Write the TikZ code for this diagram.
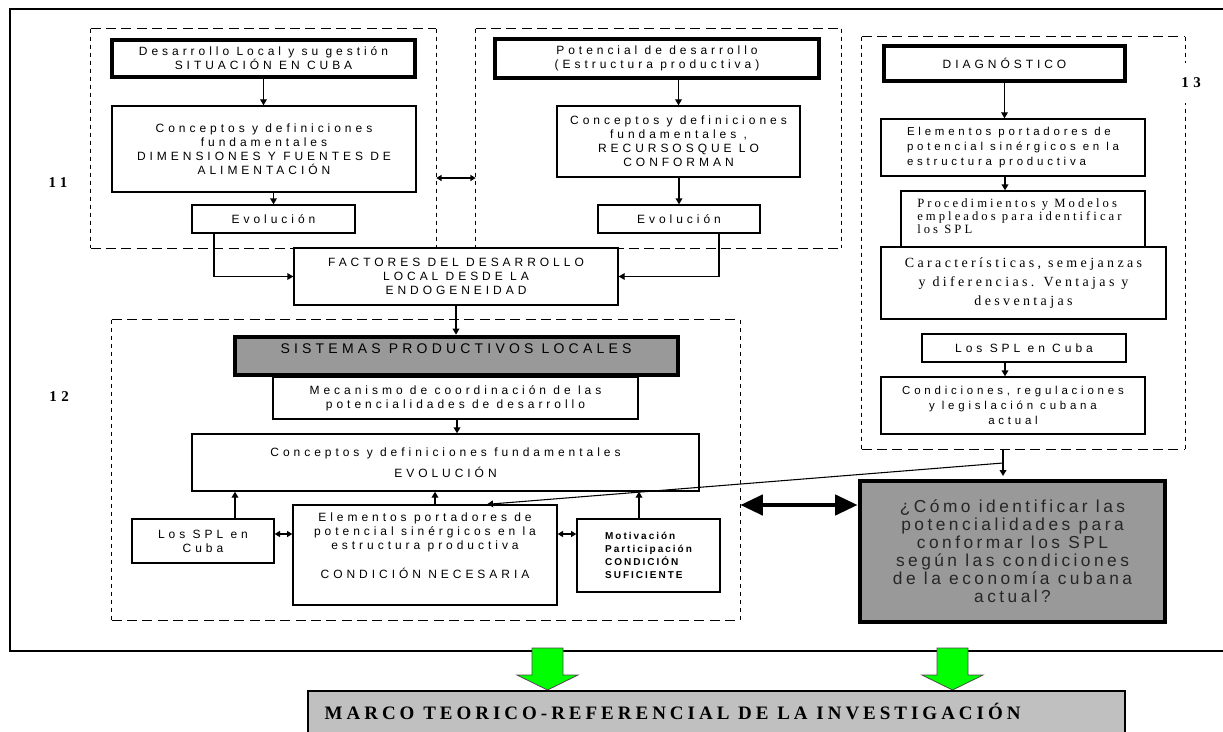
\documentclass[tikz,border=0pt]{standalone}
\usepackage{fontspec}
\setmainfont{Liberation Sans}
\newfontfamily\arf[LetterSpace=33]{Liberation Sans}
\newfontfamily\arsis[LetterSpace=30]{Liberation Sans}
\newfontfamily\arq[LetterSpace=20]{Liberation Sans}
\newfontfamily\tmf[LetterSpace=24]{Liberation Serif}
\newfontfamily\tmb[LetterSpace=21]{Liberation Serif}
\newfontfamily\lbf[LetterSpace=30]{Liberation Serif}
\usetikzlibrary{fit,arrows.meta,calc}
\definecolor{boxgray}{RGB}{153,153,153}
\definecolor{lgray}{RGB}{192,192,192}
\definecolor{arrgreen}{RGB}{0,255,0}
\newcommand{\myfs}[2]{\fontsize{#1}{#2}\selectfont}
\begin{document}
\begin{tikzpicture}[x=0.75pt,y=-0.75pt,
  bx/.style n args={4}{minimum width={(#3-#1)*0.75pt}, minimum height={(#4-#2)*0.75pt}, at={({(#1+#3)/2},{(#2+#4)/2})}},
  box/.style={draw, line width=1pt, fill=white, inner sep=0pt, align=center, font=\arf\myfs{9}{10.5}},
  thickbox/.style={box, line width=3.5pt},
  graybox/.style={box, line width=3.5pt, fill=boxgray},
  region/.style={inner sep=0pt},
  dh/.style={line width=0.9pt, dash pattern=on 7.5pt off 4pt},
  dv/.style={line width=0.9pt, dash pattern=on 3pt off 3pt},
  arr/.style={line width=1pt, -{Triangle[length=4.5pt,width=5pt]}},
  darr/.style={line width=1.5pt, {Triangle[length=4pt,width=4.5pt]}-{Triangle[length=4pt,width=4.5pt]}},
  bigarr/.style={line width=3.5pt, {Triangle[length=17pt,width=15pt]}-{Triangle[length=17pt,width=15pt]}},
  garrow/.style={fill=arrgreen, draw=black!70, line width=0.6pt},
  lbl/.style={font=\lbf\bfseries\myfs{11.25}{12}, inner sep=1pt},
  sertext/.style={font=\tmf\myfs{10.5}{14.25}},
]
\useasboundingbox (0,0) rectangle (1223,731);
\clip (0,0) rectangle (1223,731);
\fill[white] (0,0) rectangle (1223,731);

% outer frame
\draw[line width=0.9pt] (1240,9) -| (10,651) -- (1240,651);

% dashed regions
\node[region, fit={(91,29)(436,248)}] (d11) {};
\node[region, fit={(476,29)(841,248)}] (d2) {};
\node[region, fit={(112,320)(740,620)}] (d12) {};
\node[region, fit={(862,37)(1185,449)}] (d13) {};
\foreach \r in {d11,d2,d12,d13}{
  \draw[dh] (\r.north west) -- (\r.north east) (\r.south west) -- (\r.south east);
  \draw[dv] (\r.north west) -- (\r.south west) (\r.north east) -- (\r.south east);
}

% labels
\node[lbl] (l11) at (58,183) {11};
\node[lbl] (l12) at (59,397) {12};
\node[lbl, fill=white, minimum height=30pt] (l13) at (1191,83) {13};

% region 11
\node[thickbox, bx={112}{40}{415}{77}] (n1) {Desarrollo Local y su gestión\\SITUACIÓN EN CUBA};
\node[box, bx={112}{106}{416}{192}] (c1) {Conceptos y definiciones\\fundamentales\\DIMENSIONES Y FUENTES DE\\ALIMENTACIÓN};
\node[box, bx={192}{205}{355}{233}] (evo1) {Evolución};
\draw[arr] (n1.south) -- (n1.south |- c1.north);
\draw[arr] (c1.south -| evo1.north) -- (evo1.north);

% region 2
\node[thickbox, bx={495}{39}{819}{78}] (n2) {Potencial de desarrollo\\(Estructura productiva)};
\node[box, bx={557}{106}{800}{177}] (c2) {Conceptos y definiciones\\fundamentales ,\\RECURSOSQUE LO\\CONFORMAN};
\node[box, bx={598}{205}{760}{233}] (evo2) {Evolución};
\draw[arr] (n2.south -| c2.north) -- (c2.north);
\draw[arr] (c2.south -| evo2.north) -- (evo2.north);

% link between regions 11 and 2
\draw[darr] (d11.east |- 0,178) -- (d2.west |- 0,178);

% factores
\node[box, bx={294}{248}{618}{305}] (fac) {FACTORES DEL DESARROLLO\\LOCAL DESDE LA\\ENDOGENEIDAD};
\draw[arr] (214,0 |- evo1.south) |- (fac.west);
\draw[arr] (719,0 |- evo2.south) |- (fac.east);

% region 12
\node[box, bx={273}{377}{638}{419}] (mec) {Mecanismo de coordinación de las\\potencialidades de desarrollo};
\node[graybox, bx={235}{337}{678}{375}] (sis) {};
\node[font=\arsis\myfs{10.5}{12}] (sist) at (456,349) {SISTEMAS PRODUCTIVOS LOCALES};
\draw[arr] (fac.south) -- (fac.south |- sis.north);
\node[box, bx={192}{434}{699}{491}] (con) {Conceptos y definiciones fundamentales\\[5pt]EVOLUCIÓN};
\draw[arr] (457,0 |- mec.south) -- (457,0 |- con.north);
\node[box, bx={132}{519}{274}{563}] (spl) {Los SPL en\\Cuba};
\node[box, bx={293}{505}{557}{605}] (ele) {Elementos portadores de\\potencial sinérgicos en la\\estructura productiva\\[11pt]CONDICIÓN NECESARIA\\[4pt]};
\node[box, bx={577}{519}{720}{592}, font=\arq\bfseries\myfs{7.5}{9.75}, align=left] (mot) {Motivación\\Participación\\CONDICIÓN\\SUFICIENTE};
\draw[arr] (235,0 |- spl.north) -- (235,0 |- con.south);
\draw[arr] (435,0 |- ele.north) -- (435,0 |- con.south);
\draw[arr] (639,0 |- mot.north) -- (639,0 |- con.south);
\draw[darr] (spl.east |- 0,534) -- (ele.west |- 0,534);
\draw[darr] (ele.east |- 0,534) -- (mot.west |- 0,534);

% region 13
\node[thickbox, bx={884}{46}{1125}{81}] (diag) {DIAGNÓSTICO};
\node[box, bx={881}{119}{1145}{176}, font=\arf\myfs{8.6}{11.25}, align=left] (e13) {Elementos portadores de\\potencial sinérgicos en la\\estructura productiva};
\node[box, bx={901}{191}{1145}{252}] (proc) {};
\node[font=\tmf\myfs{9.5}{10}, align=left, anchor=west, inner sep=0pt] (proct) at (917,216) {Procedimientos y Modelos\\empleados para identificar\\los SPL};
\node[box, bx={881}{247}{1166}{319}, sertext] (car) {Características, semejanzas\\y diferencias. Ventajas y\\desventajas};
\node[box, bx={922}{334}{1126}{362}] (rspl) {Los SPL en Cuba};
\node[box, bx={881}{377}{1145}{434}, font=\arf\myfs{8.6}{11.25}] (cond) {Condiciones, regulaciones\\y legislación cubana\\actual};
\draw[arr] (diag.south) -- (diag.south |- e13.north);
\draw[arr] (1005,0 |- e13.south) -- (1005,0 |- proc.north);
\draw[arr] (1005,0 |- rspl.south) -- (1005,0 |- cond.north);

% question
\node[graybox, bx={860}{481}{1165}{622}, font=\arq\myfs{13}{13.5}, text=black!85] (q) {¿Cómo identificar las\\potencialidades para\\conformar los SPL\\según las condiciones\\de la economía cubana\\actual?};
\coordinate (j) at (1003,463);
\draw[arr, shorten >=2pt] (1003,0 |- d13.south) -- (1003,0 |- q.north);
\draw[arr, line width=0.8pt] (j) -- (487,0 |- ele.north);
\draw[bigarr] (d12.east |- 0,505) -- (q.west |- 0,505);

% bottom
\draw[garrow] (532,648) -- (563,648) -- (563,675) -- (578,675) -- (547.5,690) -- (517,675) -- (532,675) -- cycle;
\draw[garrow] (937,648) -- (968,648) -- (968,675) -- (983,675) -- (952.5,690) -- (922,675) -- (937,675) -- cycle;
\node[draw, line width=1pt, fill=lgray, inner sep=0pt, bx={308}{691}{1125}{760}] (mb) {};
\node[font=\tmb\bfseries\myfs{14.25}{15}, anchor=west] (mt) at (320,711) {MARCO TEORICO-REFERENCIAL DE LA INVESTIGACIÓN};
\end{tikzpicture}
\end{document}
